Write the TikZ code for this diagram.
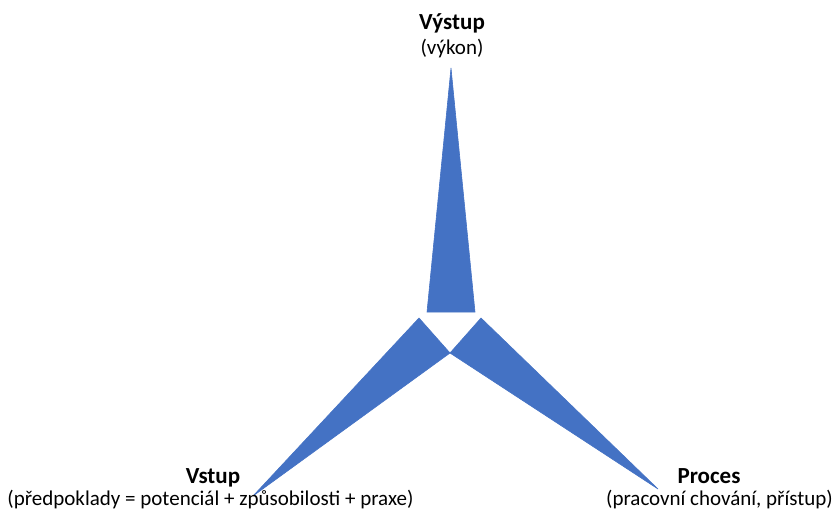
\documentclass[tikz,border=0pt]{standalone}
\usepackage{fontspec}
\setmainfont{Carlito}
\definecolor{spikeblue}{HTML}{4472C4}
\begin{document}
\begin{tikzpicture}[x=1pt,y=-1pt,
  spike/.style={fill=spikeblue,draw=spikeblue,line width=0.6pt,line join=miter},
  head/.style={font=\fontsize{23}{26}\selectfont\bfseries,inner sep=0pt,anchor=base},
  sub/.style={font=\fontsize{21}{24}\selectfont,inner sep=0pt,anchor=base}]
\useasboundingbox (0,0) rectangle (834,511);
% key points of the three spikes
\coordinate (topTip) at (451,68);
\coordinate (topL) at (427,312);
\coordinate (topR) at (475,312);
\coordinate (hub) at (450,353);
\coordinate (leftTop) at (419,318);
\coordinate (leftTip) at (253,496);
\coordinate (rightTop) at (481,318);
\coordinate (rightTip) at (658,489);
% spikes
\fill[spike] (topTip) -- (topR) -- (topL) -- cycle;
\fill[spike] (leftTop) -- (hub) -- (leftTip) -- cycle;
\fill[spike] (rightTop) -- (hub) -- (rightTip) -- cycle;
% labels
\node[head] (outT) at (452,30) {Výstup};
\node[sub] (outS) at (452,55) {(výkon)};
\node[head] (inT) at (213,483) {Vstup};
\node[sub] (inS) at (210.5,505) {(předpoklady = potenciál + způsobilosti + praxe)};
\node[head] (prT) at (709,483) {Proces};
\node[sub] (prS) at (719.5,505) {(pracovní chování, přístup)};
\end{tikzpicture}
\end{document}
